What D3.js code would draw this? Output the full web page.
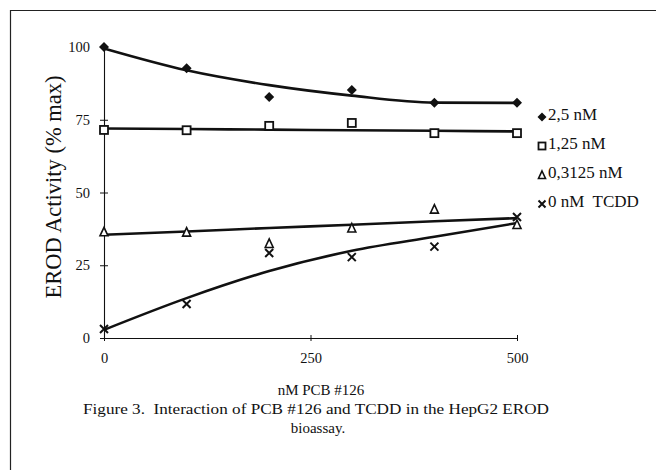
<!DOCTYPE html>
<html>
<head>
<meta charset="utf-8">
<script src="https://cdn.jsdelivr.net/npm/d3@7"></script>
<style>
  body { margin: 0; background: #fff; }
  text { font-family: "Liberation Serif", "DejaVu Serif", serif; fill: #111; }
</style>
</head>
<body>
<svg id="chart" width="656" height="470"></svg>
<script>
// PCB #126 dose (nM)
const doses = [0, 100, 200, 300, 400, 500];

// measured EROD activity (% max), one array per TCDD level
const tcdd25 = [100, 92.7, 82.8, 85.2, 80.8, 80.8];
const tcdd125 = [71.5, 71.4, 72.9, 73.9, 70.4, 70.4];
const tcdd03125 = [36.5, 36.4, 32.5, 37.8, 44.3, 39];
const tcdd0 = [3.1, 11.7, 29.2, 27.8, 31.4, 41.6];

// fitted trend lines, read at the same doses
const fit25 = [99.5, 92, 86.9, 83.3, 80.9, 80.8];
const fit125 = [72, 71.8, 71.6, 71.4, 71.2, 71];
const fit03125 = [35.5, 36.6, 37.8, 38.9, 40.1, 41.2];
const fit0 = [2.8, 13.7, 23, 30, 34.8, 39.5];

const seriesNames = ["2,5 nM", "1,25 nM", "0,3125 nM", "0 nM\u00a0 TCDD"];
const markers = ["diamond", "square", "triangle", "cross"];
const xTicks = [0, 250, 500];
const yTicks = [0, 25, 50, 75, 100];

const series = seriesNames.map((name, i) => ({
  name,
  marker: markers[i],
  pts: [tcdd25, tcdd125, tcdd03125, tcdd0][i],
  fit: [fit25, fit125, fit03125, fit0][i]
}));

const svg = d3.select("#chart");

// page frame (scanned figure border, top + left only)
svg.append("path")
  .attr("d", "M10.5,470 L10.5,10.5 L656,10.5")
  .attr("fill", "none").attr("stroke", "#222").attr("stroke-width", 1.2);

const x = d3.scaleLinear().domain([0, 500]).range([104, 517]);
const y = d3.scaleLinear().domain([0, 100]).range([338, 47]);

// axes: ticks cross the axis line
const xAxis = svg.append("g").attr("transform", "translate(0,338)")
  .call(d3.axisBottom(x).tickValues(xTicks).tickSize(0).tickPadding(13));
xAxis.selectAll(".tick").append("line").attr("y1", -3).attr("y2", 3).attr("stroke", "#111");

const yAxis = svg.append("g").attr("transform", "translate(104,0)")
  .call(d3.axisLeft(y).tickValues(yTicks).tickSize(0).tickPadding(14));
yAxis.selectAll(".tick").append("line").attr("x1", -4).attr("x2", 4).attr("stroke", "#111");

svg.selectAll(".domain").attr("stroke", "#111").attr("stroke-width", 1.1);
svg.selectAll(".tick text")
  .style("font-family", "Liberation Serif")
  .style("font-size", "14.5px").attr("fill", "#111");
xAxis.selectAll(".tick text").attr("dy", "0.8em");

// fitted curves
const line = d3.line()
  .x((d, i) => x(doses[i]))
  .y(d => y(d))
  .curve(d3.curveMonotoneX);

svg.append("g").selectAll("path")
  .data(series)
  .join("path")
  .attr("d", d => line(d.fit))
  .attr("fill", "none")
  .attr("stroke", "#111")
  .attr("stroke-width", 2.6);

// marker shapes
function drawMarker(g, type, s) {
  const h = s / 2;
  if (type === "diamond") {
    g.append("path").attr("d", `M0,${-h - 0.5}L${h + 0.5},0L0,${h + 0.5}L${-h - 0.5},0Z`)
      .attr("fill", "#111");
  } else if (type === "square") {
    g.append("rect").attr("x", -h + 0.5).attr("y", -h + 0.5)
      .attr("width", s - 1).attr("height", s - 1)
      .attr("fill", "#fff").attr("stroke", "#111").attr("stroke-width", 1.8);
  } else if (type === "triangle") {
    g.append("path").attr("d", `M0,${-h}L${h - 0.5},${h - 0.5}L${-h + 0.5},${h - 0.5}Z`)
      .attr("fill", "#fff").attr("stroke", "#111").attr("stroke-width", 1.6);
  } else {
    const k = h - 0.5;
    g.append("path").attr("d", `M${-k},${-k}L${k},${k}M${k},${-k}L${-k},${k}`)
      .attr("stroke", "#111").attr("stroke-width", 2);
  }
}

series.forEach(sr => {
  svg.append("g").selectAll("g")
    .data(sr.pts)
    .join("g")
    .attr("transform", (d, i) => `translate(${x(doses[i])},${y(d)})`)
    .each(function () { drawMarker(d3.select(this), sr.marker, 9); });
});

// legend
const legend = svg.append("g").selectAll("g")
  .data(series)
  .join("g")
  .attr("transform", (d, i) => `translate(542,${117 + i * 29})`);
legend.each(function (d) { drawMarker(d3.select(this), d.marker, 8); });
legend.append("text")
  .attr("x", 6).attr("dy", "0.15em")
  .style("font-size", "17px")
  .text(d => d.name);

// axis titles and caption (stretched to match the scanned typeface)
svg.append("text")
  .attr("transform", "translate(61,187) rotate(-90)")
  .attr("text-anchor", "middle")
  .style("font-size", "22.5px")
  .text("EROD Activity (% max)");

svg.append("text")
  .attr("x", 321).attr("y", 395)
  .attr("text-anchor", "middle")
  .style("font-size", "15px")
  .text("nM PCB #126");

svg.append("text")
  .attr("x", 316).attr("y", 414)
  .attr("text-anchor", "middle")
  .style("font-size", "15px")
  .attr("textLength", 466).attr("lengthAdjust", "spacingAndGlyphs")
  .text("Figure 3.\u00a0 Interaction of PCB #126 and TCDD in the HepG2 EROD");

svg.append("text")
  .attr("x", 318).attr("y", 433)
  .attr("text-anchor", "middle")
  .style("font-size", "15px")
  .text("bioassay.");
</script>
</body>
</html>
